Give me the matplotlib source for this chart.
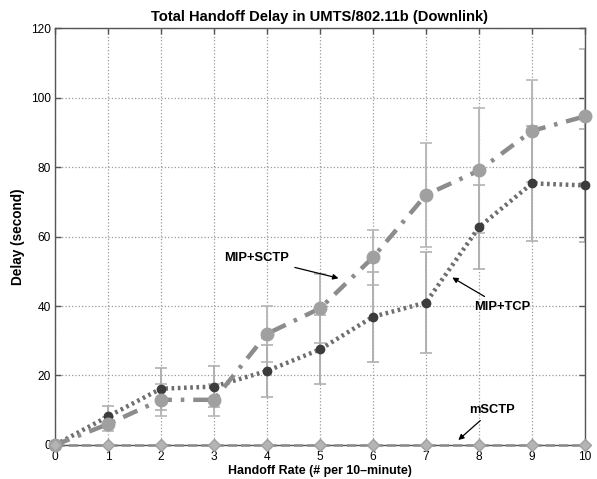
import numpy as np
import matplotlib.pyplot as plt

plt.rcParams['font.family'] = ['Liberation Sans', 'DejaVu Sans']

rate = [0, 1, 2, 3, 4, 5, 6, 7, 8, 9, 10]
mip_sctp = [0, 6, 13, 13, 32, 39.3, 54, 72, 79, 90.4, 94.6]
mip_sctp_err = [0, 2, 4.6, 4.6, 8, 10, 8, 15, 18, 14.6, 19.3]
mip_tcp = [0, 8.2, 16.2, 16.8, 21.3, 27.5, 36.9, 41, 62.7, 75.3, 74.7]
mip_tcp_err = [0, 3, 6, 6, 7.6, 10, 13, 14.5, 12, 16.5, 16.3]
msctp = [0, 0, 0, 0, 0, 0, 0, 0, 0, 0, 0]

fig = plt.figure(figsize=(5.97, 4.79), dpi=100)
ax = fig.add_axes([0.092, 0.071, 0.888, 0.8705])

# error bars first, light gray
ax.errorbar(rate[1:], mip_sctp[1:], yerr=mip_sctp_err[1:], fmt='none',
            ecolor='#b8b8b8', elinewidth=1.4, capsize=4, capthick=1.2, zorder=2)
ax.errorbar(rate[1:], mip_tcp[1:], yerr=mip_tcp_err[1:], fmt='none',
            ecolor='#b0b0b0', elinewidth=1.4, capsize=4, capthick=1.2, zorder=2)

ax.plot(rate, mip_tcp, linestyle=(0, (0.6, 0.8)), color='#6e6e6e', linewidth=3.2,
        marker='o', markersize=6, markerfacecolor='#3c3c3c', markeredgecolor='#3c3c3c',
        zorder=3, clip_on=False)
ax.plot(rate, mip_sctp, linestyle=(0, (3.5, 2, 0.8, 2)), color='#8c8c8c', linewidth=3.2,
        marker='o', markersize=9, markerfacecolor='#a0a0a0', markeredgecolor='#a0a0a0',
        zorder=4, clip_on=False)
ax.plot(rate, msctp, linestyle='--', color='#8a8a8a', linewidth=1.8,
        marker='D', markersize=6, markerfacecolor='#b4b4b4', markeredgecolor='#a0a0a0',
        zorder=4, clip_on=False)

ax.set_xlim(0, 10)
ax.set_ylim(0, 120)
ax.set_xticks(range(0, 11))
ax.set_yticks(range(0, 121, 20))
ax.grid(True, linestyle=':', color='#9a9a9a', linewidth=0.9)
ax.tick_params(direction='in', top=True, right=True, length=4, width=1,
               color='#555555', labelsize=8.6, pad=3)
ax.tick_params(axis='x', pad=4)
for s in ax.spines.values():
    s.set_color('#555555')
    s.set_linewidth(1)

ax.set_title('Total Handoff Delay in UMTS/802.11b (Downlink)', fontsize=10.6,
             fontweight='bold', pad=5)
ax.set_xlabel('Handoff Rate (# per 10\u2013minute)', fontsize=8.9, fontweight='bold', labelpad=2)
ax.set_ylabel('Delay (second)', fontsize=9.8, fontweight='bold', labelpad=4)

arrow = dict(arrowstyle='-|>', color='black', linewidth=0.9, mutation_scale=8)
ax.annotate('MIP+SCTP', xy=(5.40, 47.8), xytext=(3.81, 53.8), fontsize=9.3,
            fontweight='bold', ha='center', va='center', arrowprops=arrow)
ax.annotate('MIP+TCP', xy=(7.45, 48.6), xytext=(8.43, 39.8), fontsize=9.3,
            fontweight='bold', ha='center', va='center', arrowprops=arrow)
ax.annotate('mSCTP', xy=(7.57, 0.9), xytext=(8.25, 10.1), fontsize=9.3,
            fontweight='bold', ha='center', va='center', arrowprops=arrow)

fig.savefig('out.png', dpi=100)
